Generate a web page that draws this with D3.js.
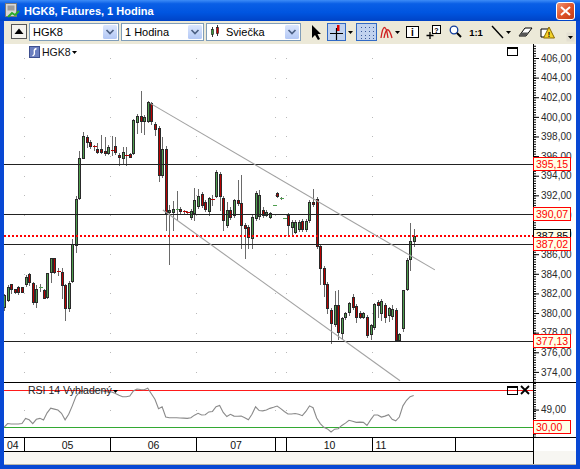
<!DOCTYPE html>
<html>
<head>
<meta charset="utf-8">
<script src="https://cdn.jsdelivr.net/npm/d3@7"></script>
<style>
body{margin:0;background:#fff;overflow:hidden;}
svg{display:block;font-family:"Liberation Sans",Arial,sans-serif;}
</style>
</head>
<body>
<svg id="chart" width="580" height="469"></svg>
<script>
// hodinove sviecky HGK8 (precitane z obrazka)
var openP = [380.6,381.33,382.93,382.45,382.69,382.69,382.93,384.01,383.06,381.1,
  382.6,382.35,381.6,384.15,385.6,384.3,384.15,382.86,380.55,383.27,
  386.94,391.76,395.84,397.98,397.47,397.0,396.72,396.72,396.5,396.3,
  396.6,397.03,396.1,395.84,396.1,396.18,396.3,399.5,400.1,399.6,
  399.58,401.4,399.24,398.9,394.1,396.7,390.3,390.3,390.5,390.6,
  390.4,390.3,389.8,390.2,390.9,392.1,391.3,390.4,391.6,391.9,
  394.2,391.7,389.0,390.5,390.0,391.5,391.2,389.0,388.8,387.6,
  389.7,389.9,390.5,390.0,389.8,391.0,392.2,391.7,389.7,390.0,
  388.8,388.3,388.6,389.4,388.6,389.5,391.3,391.6,386.8,384.6,
  383.0,380.3,378.9,380.8,378.0,379.6,380.1,381.6,380.7,380.0,
  379.6,379.6,377.9,378.6,381.1,380.0,380.8,379.8,379.7,380.3,
  377.3,378.5,382.5,385.5,387.3];
var highP = [381.9,382.86,383.0,382.5,382.75,382.7,383.9,384.1,383.2,382.86,
  383.0,382.45,384.1,385.65,385.65,384.6,384.6,382.95,383.3,387.55,
  391.96,396.5,398.5,398.2,397.64,397.1,397.3,398.15,397.9,397.1,
  398.0,397.9,396.3,396.96,396.96,396.3,399.8,400.3,402.6,400.2,
  401.65,401.5,399.5,399.1,397.9,397.0,391.0,391.4,392.4,390.8,
  390.5,390.4,390.6,392.7,392.6,392.3,391.5,391.8,392.0,394.6,
  394.4,391.9,391.3,390.8,391.6,393.6,394.1,389.2,389.0,390.0,
  392.4,392.5,390.8,390.5,390.3,391.0,392.3,391.8,389.7,390.2,
  389.5,389.5,389.5,389.6,389.6,391.5,392.6,391.8,386.9,384.8,
  383.2,380.5,382.2,382.3,379.6,380.1,381.1,381.9,380.9,380.2,
  380.1,379.8,378.9,381.0,381.3,381.4,381.0,380.6,380.8,380.5,
  378.0,382.4,385.6,389.2,388.6];
var lowP = [380.3,381.2,382.0,382.0,381.9,382.1,382.8,382.9,380.9,380.65,
  382.2,381.5,381.5,383.2,384.05,383.9,381.5,379.3,380.2,383.17,
  386.25,391.63,395.8,396.96,396.8,396.6,396.3,396.3,396.1,396.2,
  396.1,396.2,395.1,395.16,395.1,395.9,396.2,398.4,398.5,398.3,
  399.5,399.3,398.2,393.5,393.9,388.5,385.0,388.5,389.5,390.2,
  390.2,390.1,389.6,389.5,390.7,390.8,390.4,390.0,391.0,391.8,
  390.5,388.5,388.8,389.6,389.8,391.0,386.6,385.6,386.6,386.6,
  389.5,389.6,389.8,389.9,389.7,391.0,391.8,391.6,389.7,388.0,
  388.1,388.2,388.4,388.4,388.4,389.3,390.9,386.6,383.0,381.7,
  380.0,376.9,378.7,377.4,377.5,379.4,379.8,380.4,379.1,379.5,
  379.5,377.6,377.4,378.4,379.6,379.3,379.1,379.2,379.4,377.2,
  377.1,378.2,382.3,384.4,386.8];
var closeP = [381.8,382.69,382.45,382.12,382.18,382.18,383.68,383.13,381.1,382.45,
  382.7,381.57,384.05,385.58,384.15,384.25,382.86,380.5,383.03,387.0,
  391.63,395.84,398.05,397.41,397.0,396.95,396.45,396.4,396.3,396.96,
  396.5,396.45,395.95,396.45,396.0,395.94,399.7,400.1,399.6,400.0,
  401.55,399.6,398.73,394.1,396.7,390.2,390.5,390.6,390.6,390.4,
  390.3,390.2,390.4,391.5,391.9,391.0,390.6,391.7,391.5,394.4,
  391.9,389.5,390.5,389.8,391.5,391.2,389.0,388.7,387.8,389.8,
  392.2,392.0,390.0,390.3,390.2,391.0,391.9,391.7,389.7,389.0,
  389.3,389.3,389.3,388.6,389.4,391.35,391.1,386.8,384.6,383.0,
  380.5,379.0,380.8,378.1,379.5,380.0,381.0,380.6,379.6,379.6,
  380.0,377.8,378.8,380.9,380.8,381.2,379.6,380.5,380.4,377.3,
  377.9,382.3,385.4,387.3,387.85];
// RSI 14 vyhladeny, jedna hodnota na sviecku
var rsi = [30,34,33.5,33.5,33.5,34,39.5,38,34,38.6,
  39.6,37.8,45.5,50.5,49.5,48.5,45,38,44,53,
  63,67.8,69,69.7,69,68.6,69.3,69.5,68.5,67.9,
  67.9,66.3,64.3,62.8,62.8,63.5,69,71,70.5,70.3,
  72,66,60,50,52,41,40.3,40.3,40.3,40,
  39.8,39.6,40.2,43,45,43.2,43.5,46.5,47,52,
  53.5,46,41.5,43.9,42,41.8,42,40.3,38,44,
  52,48,47.6,48.5,50.3,51.5,52.8,50,47,44.3,
  44.3,44.8,44,42.5,47,53,51,40,34,30,
  28.3,25,28,28.5,32,34.5,37.5,36.5,35.3,35.5,
  35.3,32,38,43.2,43.2,41,42,43.5,38.5,37,
  41,53,59,62.8,64];

var levelLines = [395.15, 390.07, 387.02, 377.13];
var lastPrice = 387.85;
var priceTicks = [374,376,378,380,382,384,386,388,390,392,394,396,398,400,402,404,406];
var rsiLevels = [70, 30];
var rsiTicks = [49];
var dayLabels = ["04","05","06","07","","10","11",""];
var dayStart = [0,6,30,54,76,79,103,126];
var dayAlign = ["start","middle","middle","middle","middle","middle","start","middle"];
var trendUpper = [[40.6,401.4],[119.9,384.4]];
var trendLower = [[44.2,390.5],[110.2,373.1]];

(function(){
var svg = d3.select("#chart");
var axisX = 533, mainT = 44, mainB = 382, rsiB = 437, timeB = 451;

var x = d3.scaleLinear().domain([0,147]).range([4,532.3]);
var y = d3.scaleLinear().domain([406,374]).range([58,371.9]);
var yr = d3.scaleLinear().domain([30,70]).range([427.3,390]);
var comma = function(v){ return d3.format(".2f")(v).replace(".", ","); };
var crisp = function(v){ return Math.round(v) + 0.5; };

var defs = svg.append("defs");
var tg = defs.append("linearGradient").attr("id","titleG").attr("x1",0).attr("y1",0).attr("x2",0).attr("y2",1);
tg.append("stop").attr("offset","0").attr("stop-color","#3d8cf7");
tg.append("stop").attr("offset","0.18").attr("stop-color","#0a5fe6");
tg.append("stop").attr("offset","0.6").attr("stop-color","#0055e0");
tg.append("stop").attr("offset","1").attr("stop-color","#0043c6");
var bg = defs.append("linearGradient").attr("id","btnG").attr("x1",0).attr("y1",0).attr("x2",0).attr("y2",1);
bg.append("stop").attr("offset","0").attr("stop-color","#dbe6fd");
bg.append("stop").attr("offset","1").attr("stop-color","#b3c8f5");
var cg = defs.append("linearGradient").attr("id","closeG").attr("x1",0).attr("y1",0).attr("x2",1).attr("y2",1);
cg.append("stop").attr("offset","0").attr("stop-color","#f0987a");
cg.append("stop").attr("offset","0.5").attr("stop-color","#e0542a");
cg.append("stop").attr("offset","1").attr("stop-color","#c03a14");
defs.append("clipPath").attr("id","mainClip").append("rect")
  .attr("x",4).attr("y",mainT).attr("width",axisX-4).attr("height",mainB-mainT);
defs.append("clipPath").attr("id","rsiClip").append("rect")
  .attr("x",4).attr("y",mainB).attr("width",axisX-4).attr("height",rsiB-mainB);

/* okno */
svg.append("rect").attr("width",580).attr("height",469).attr("fill","#0848d4");
svg.append("rect").attr("x",0).attr("y",0).attr("width",580).attr("height",21).attr("fill","url(#titleG)");
svg.append("rect").attr("x",4).attr("y",21).attr("width",572).attr("height",444).attr("fill","#fff");
svg.append("rect").attr("x",4).attr("y",21).attr("width",572).attr("height",23).attr("fill","#ece9d8");
svg.append("rect").attr("x",4).attr("y",timeB).attr("width",572).attr("height",465-timeB).attr("fill","#f7f6f2");
svg.append("line").attr("x1",4).attr("x2",576).attr("y1",464.5).attr("y2",464.5).attr("stroke","#b8b6ab");

// ikona v titulku
var ic = svg.append("g");
ic.append("rect").attr("x",5.5).attr("y",3.5).attr("width",11).attr("height",13).attr("fill","#d8d8d8").attr("stroke","#7a7a7a");
ic.append("rect").attr("x",7.5).attr("y",5.5).attr("width",7).attr("height",5).attr("fill","#9c9c9c");
ic.append("path").attr("d","M8,17 L12,13 L15,15 L19,11").attr("stroke","#2cab2c").attr("stroke-width",2).attr("fill","none");
svg.append("text").attr("x",24).attr("y",15).attr("fill","#fff").attr("font-weight","bold")
  .attr("font-size","11px").text("HGK8, Futures, 1 Hodina");
// zatvorit
svg.append("rect").attr("x",556.5).attr("y",2.5).attr("width",18).attr("height",17).attr("rx",2.5)
  .attr("fill","url(#closeG)").attr("stroke","#fff");
svg.append("path").attr("d","M561,7 L570,15 M570,7 L561,15").attr("stroke","#fff").attr("stroke-width",2);

/* toolbar */
var tb = svg.append("g");
tb.append("rect").attr("x",11.5).attr("y",24.5).attr("width",15).attr("height",14).attr("fill","#f4f3ee").attr("stroke","#555");
tb.append("path").attr("d","M14.5,34 L19,28.5 L23.5,34 Z").attr("fill","#000");

function combo(x0, x1, label, tx){
  var g = tb.append("g");
  g.append("rect").attr("x",x0+0.5).attr("y",23.5).attr("width",x1-x0).attr("height",17).attr("fill","#fff").attr("stroke","#7f9db9");
  g.append("rect").attr("x",x1-15).attr("y",25).attr("width",14).attr("height",14).attr("rx",1.5).attr("fill","url(#btnG)");
  g.append("path").attr("d","M"+(x1-11.5)+",30 l3.5,3.5 l3.5,-3.5").attr("stroke","#4d6185").attr("stroke-width",1.7).attr("fill","none");
  g.append("text").attr("x",tx).attr("y",36).attr("font-size","11px").attr("fill","#000").text(label);
  return g;
}
combo(29, 118, "HGK8", 33);
combo(121, 203, "1 Hodina", 125);
var c3 = combo(206, 300, "Sviečka", 226);
c3.append("line").attr("x1",212.5).attr("x2",212.5).attr("y1",27).attr("y2",37).attr("stroke","#333");
c3.append("rect").attr("x",211.5).attr("y",29.5).attr("width",2).attr("height",5).attr("fill","#3a9a3a").attr("stroke","#111").attr("stroke-width",0.6);
c3.append("line").attr("x1",217.5).attr("x2",217.5).attr("y1",25).attr("y2",36).attr("stroke","#333");
c3.append("rect").attr("x",216.5).attr("y",27.5).attr("width",2).attr("height",6).attr("fill","#c00").attr("stroke","#111").attr("stroke-width",0.6);

// sipka kurzora
tb.append("path").attr("d","M312,25 L312,38 L315,35 L318,40 L320,39 L317.5,34 L321,34 Z").attr("fill","#000");
// kriz
tb.append("rect").attr("x",327.5).attr("y",23.5).attr("width",18).attr("height",17).attr("fill","#c1d2ee").attr("stroke","#316ac5");
tb.append("path").attr("d","M330,33.5 L343,33.5 M336.5,28 L336.5,40").attr("stroke","#000").attr("stroke-width",1.2);
tb.append("rect").attr("x",337).attr("y",25).attr("width",2.5).attr("height",6).attr("fill","#d00");
tb.append("path").attr("d","M348,31 L353,31 L350.5,34 Z").attr("fill","#000");
// mriezka
tb.append("rect").attr("x",356.5).attr("y",23.5).attr("width",20).attr("height",17).attr("fill","#c1d2ee").attr("stroke","#316ac5");
[361,365,369,373].forEach(function(gx){
  [27,31,35,38].forEach(function(gy){
    tb.append("rect").attr("x",gx).attr("y",gy).attr("width",1).attr("height",1).attr("fill","#3b5a9a");
  });
});
// indikator
tb.append("path").attr("d","M381,38 C383,24 386,24 388,38 M384,38 C386,27 389,27 392,38").attr("stroke","#d02020").attr("stroke-width",1.3).attr("fill","none");
tb.append("path").attr("d","M395,31 L400,31 L397.5,34 Z").attr("fill","#000");
// info
tb.append("rect").attr("x",406.5).attr("y",26.5).attr("width",12).attr("height",11).attr("fill","#fff").attr("stroke","#000");
tb.append("text").attr("x",412.5).attr("y",36).attr("text-anchor","middle").attr("font-size","10px").attr("font-weight","bold").text("i");
// dalsia ikona
tb.append("rect").attr("x",432.5).attr("y",25.5).attr("width",8).attr("height",8).attr("fill","#fff").attr("stroke","#000");
tb.append("path").attr("d","M430,32 L430,39 M426.5,35.5 L433.5,35.5").attr("stroke","#000").attr("stroke-width",1.3);
tb.append("text").attr("x",436.5).attr("y",32.5).attr("text-anchor","middle").attr("font-size","7px").attr("font-weight","bold").text("?");
// lupa
tb.append("circle").attr("cx",454).attr("cy",30).attr("r",3.8).attr("fill","#fff").attr("stroke","#103c9c").attr("stroke-width",1.3);
tb.append("path").attr("d","M457,33 L461,37").attr("stroke","#000").attr("stroke-width",2);
tb.append("text").attr("x",476).attr("y",35.5).attr("text-anchor","middle").attr("font-size","9.5px").attr("font-weight","bold").text("1:1");
// ciara
tb.append("path").attr("d","M492,26 L503,38").attr("stroke","#000").attr("stroke-width",1.4);
tb.append("path").attr("d","M506,31 L511,31 L508.5,34 Z").attr("fill","#000");
// guma
tb.append("path").attr("d","M519,36 L525,28 L532,28 L526,36 Z").attr("fill","#fff").attr("stroke","#000");
tb.append("path").attr("d","M519,36 L521.5,32.5 L528.5,32.5 L526,36 Z").attr("fill","#555");
// upozornenie
tb.append("path").attr("d","M541,29 L549,29 L549,37 L541,37 Z").attr("fill","#fff").attr("stroke","#000");
tb.append("path").attr("d","M549,27 L554.5,38 L543.5,38 Z").attr("fill","#f4d22a").attr("stroke","#8a6a00");
tb.append("text").attr("x",549).attr("y",37).attr("text-anchor","middle").attr("font-size","7px").attr("font-weight","bold").text("!");
tb.append("rect").attr("x",566.5).attr("y",32.5).attr("width",8).attr("height",9).attr("fill","#e3e0d2");
tb.append("path").attr("d","M568,36 L573,36 L570.5,39 Z").attr("fill","#000");

/* bodky mriezky */
var grid = svg.append("g");
dayStart.forEach(function(s){
  if (s === 0 || s >= openP.length) return;
  var gx = Math.round(x(s - 0.5));
  priceTicks.forEach(function(p){
    grid.append("rect").attr("x",gx).attr("y",Math.round(y(p))).attr("width",1).attr("height",1).attr("fill","#b9b9b9");
  });
  rsiTicks.forEach(function(v){
    grid.append("rect").attr("x",gx).attr("y",Math.round(yr(v))).attr("width",1).attr("height",1).attr("fill","#b9b9b9");
  });
});

/* sviecky */
var candles = svg.append("g").attr("clip-path","url(#mainClip)");
for (var i = 0; i < openP.length; i++) {
  var px = Math.round(x(i));
  var up = closeP[i] >= openP[i];
  var col = up ? "#4f9e4f" : "#b80000";
  candles.append("line").attr("x1",px+0.5).attr("x2",px+0.5)
    .attr("y1",Math.round(y(highP[i]))).attr("y2",Math.round(y(lowP[i]))+1)
    .attr("stroke","#6a6a6a");
  var bTop = Math.round(y(Math.max(openP[i],closeP[i])));
  var bBot = Math.round(y(Math.min(openP[i],closeP[i])));
  if (bBot - bTop <= 1) {
    // doji - len vodorovna ciarka
    candles.append("rect").attr("x",px-1).attr("y",bTop).attr("width",4).attr("height",1).attr("fill",col);
  } else {
    candles.append("rect").attr("x",px-0.5).attr("y",bTop+0.5).attr("width",2).attr("height",bBot-bTop)
      .attr("fill",col).attr("stroke","#2a2a2a").attr("stroke-width",1);
  }
}

/* horizontalne urovne a trendove ciary */
var lines = svg.append("g").attr("clip-path","url(#mainClip)");
levelLines.forEach(function(v){
  lines.append("line").attr("x1",4).attr("x2",axisX).attr("y1",crisp(y(v))).attr("y2",crisp(y(v)))
    .attr("stroke","#222");
});
lines.append("line").attr("x1",4).attr("x2",axisX).attr("y1",Math.round(y(lastPrice))).attr("y2",Math.round(y(lastPrice)))
  .attr("stroke","#ff0000").attr("stroke-width",2).attr("stroke-dasharray","2,2");
var tl = d3.line().x(function(d){ return x(d[0]); }).y(function(d){ return y(d[1]); });
[trendUpper, trendLower].forEach(function(t){
  lines.append("path").attr("d",tl(t)).attr("fill","none").attr("stroke","#a2a2a2").attr("stroke-width",1.1);
});

// hlavicka grafu
svg.append("rect").attr("x",29.5).attr("y",46.5).attr("width",10).attr("height",11).attr("fill","#6b7fc0").attr("stroke","#3d4f8f");
svg.append("path").attr("d","M36.5,48.5 C31,50 37.5,54 32.5,56").attr("stroke","#fff").attr("stroke-width",1.3).attr("fill","none");
svg.append("text").attr("x",42).attr("y",56).attr("font-size","10.5px").attr("fill","#111").text("HGK8");
svg.append("path").attr("d","M72,51 L77,51 L74.5,54 Z").attr("fill","#000");
svg.append("rect").attr("x",507.5).attr("y",47.5).attr("width",10).attr("height",8).attr("fill","none").attr("stroke","#000");
svg.append("line").attr("x1",507.5).attr("x2",517.5).attr("y1",48.5).attr("y2",48.5).attr("stroke","#000");

/* RSI panel */
var rsiG = svg.append("g").attr("clip-path","url(#rsiClip)");
rsiG.append("line").attr("x1",4).attr("x2",axisX).attr("y1",crisp(yr(rsiLevels[0]))).attr("y2",crisp(yr(rsiLevels[0]))).attr("stroke","#ff1a1a");
rsiG.append("line").attr("x1",4).attr("x2",axisX).attr("y1",crisp(yr(rsiLevels[1]))).attr("y2",crisp(yr(rsiLevels[1]))).attr("stroke","#33a833");
var rl = d3.line().x(function(d,i){ return x(i); }).y(function(d){ return yr(d); });
rsiG.append("path").attr("d",rl(rsi)).attr("fill","none").attr("stroke","#8a8a8a").attr("stroke-width",1.1);
svg.append("text").attr("x",28).attr("y",394).attr("font-size","10.5px").attr("fill","#222").text("RSI 14 Vyhladený");
svg.append("path").attr("d","M113,390 L118,390 L115.5,393 Z").attr("fill","#000");
svg.append("rect").attr("x",507.5).attr("y",386.5).attr("width",10).attr("height",8).attr("fill","none").attr("stroke","#000");
svg.append("line").attr("x1",507.5).attr("x2",517.5).attr("y1",387.5).attr("y2",387.5).attr("stroke","#000");
svg.append("path").attr("d","M521,386 L529,394 M529,386 L521,394").attr("stroke","#000").attr("stroke-width",1.8);

/* ramy panelov */
var fr = svg.append("g").attr("stroke","#000").attr("fill","none");
fr.append("line").attr("x1",4).attr("x2",576).attr("y1",mainB+0.5).attr("y2",mainB+0.5);
fr.append("line").attr("x1",4).attr("x2",576).attr("y1",rsiB+0.5).attr("y2",rsiB+0.5);
fr.append("line").attr("x1",4).attr("x2",axisX).attr("y1",timeB+0.5).attr("y2",timeB+0.5);
fr.append("line").attr("x1",axisX+0.5).attr("x2",axisX+0.5).attr("y1",mainT).attr("y2",464);

/* cenova os */
var minorMain = d3.range(373, 407.5, 0.25);
var axM = svg.append("g").attr("transform","translate("+(axisX+1)+",0)")
  .call(d3.axisRight(y).tickValues(minorMain).tickSize(2).tickFormat(""));
var axP = svg.append("g").attr("transform","translate("+(axisX+1)+",0)")
  .call(d3.axisRight(y).tickValues(priceTicks).tickSize(5).tickPadding(2).tickFormat(comma));
var minorRsi = d3.range(20, 78, 2.5);
var axR1 = svg.append("g").attr("transform","translate("+(axisX+1)+",0)")
  .call(d3.axisRight(yr).tickValues(minorRsi).tickSize(2).tickFormat(""));
var axR2 = svg.append("g").attr("transform","translate("+(axisX+1)+",0)")
  .call(d3.axisRight(yr).tickValues(rsiTicks).tickSize(5).tickPadding(2).tickFormat(comma));
[axM, axP, axR1, axR2].forEach(function(a){
  a.select(".domain").remove();
  a.selectAll("line").attr("stroke","#000");
  a.selectAll("text").attr("font-family","Liberation Sans, Arial, sans-serif").attr("font-size","10px").attr("fill","#2a2a2a");
});

/* stitky hodnot */
function tag(v, scale, color){
  var cy = Math.round(scale(v));
  var g = svg.append("g");
  g.append("rect").attr("x",axisX+0.5).attr("y",cy-6.5).attr("width",37).attr("height",13)
    .attr("fill","#ffffe6").attr("stroke",color);
  g.append("text").attr("x",axisX+3).attr("y",cy+4).attr("font-size","10.5px").attr("fill",color).text(comma(v));
}
tag(lastPrice, y, "#000");
levelLines.forEach(function(v){ tag(v, y, "#ff0000"); });
tag(rsiLevels[1], yr, "#ff0000");

/* casova os */
var ta = svg.append("g");
dayStart.forEach(function(s, i){
  var x0 = s === 0 ? 4 : Math.round(x(s - 0.5)) + 0.5;
  var x1 = i < dayStart.length - 1 ? Math.round(x(dayStart[i+1] - 0.5)) + 0.5 : axisX;
  if (s !== 0) ta.append("line").attr("x1",x0).attr("x2",x0).attr("y1",rsiB).attr("y2",timeB).attr("stroke","#000");
  if (!dayLabels[i]) return;
  var a = dayAlign[i];
  ta.append("text").attr("x", a === "start" ? x0 + 3 : (x0 + x1) / 2).attr("y",448.5)
    .attr("text-anchor",a).attr("font-size","10.5px").attr("fill","#111").text(dayLabels[i]);
});
})();
</script>
</body>
</html>
